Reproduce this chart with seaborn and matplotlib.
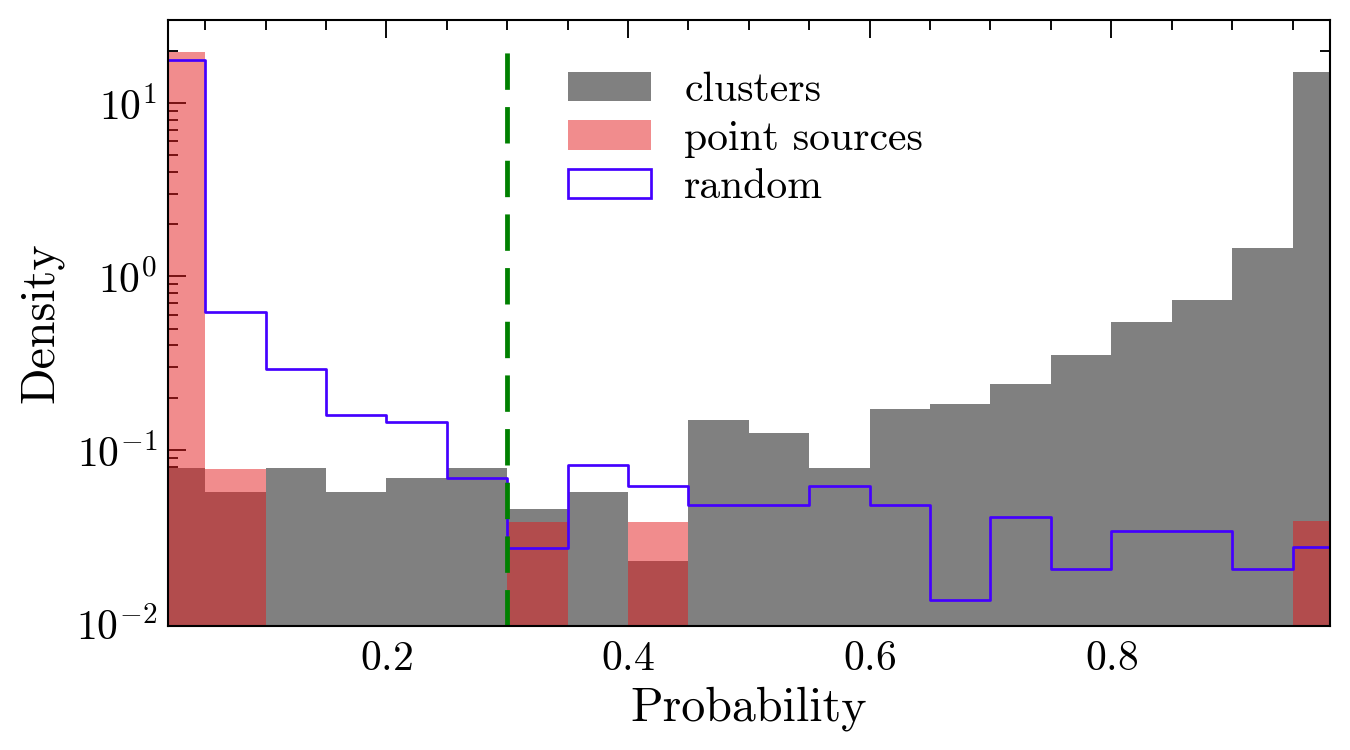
import numpy as np
import pandas as pd
import matplotlib
matplotlib.use("Agg")
import matplotlib.pyplot as plt
from matplotlib.patches import Patch
from matplotlib.ticker import MultipleLocator, AutoMinorLocator, LogLocator, NullFormatter
import seaborn as sns

# ---------------- data ----------------
bin_edges = [0.00, 0.05, 0.10, 0.15, 0.20, 0.25, 0.30, 0.35, 0.40, 0.45, 0.50,
             0.55, 0.60, 0.65, 0.70, 0.75, 0.80, 0.85, 0.90, 0.95, 1.00]
clusters_density = [0.079, 0.057, 0.079, 0.057, 0.069, 0.079, 0.0455, 0.057, 0.023, 0.148,
                    0.125, 0.079, 0.171, 0.183, 0.240, 0.351, 0.543, 0.731, 1.45, 15.1]
point_sources_density = [19.6, 0.0772, 0.0, 0.0, 0.0, 0.0, 0.0386, 0.0, 0.0386, 0.0,
                         0.0, 0.0, 0.0, 0.0, 0.0, 0.0, 0.0, 0.0, 0.0, 0.0388]
random_density = [17.7, 0.624, 0.291, 0.158, 0.145, 0.0687, 0.0273, 0.0823, 0.0616, 0.0484,
                  0.0484, 0.0616, 0.0484, 0.0137, 0.0413, 0.0207, 0.0343, 0.0343, 0.0207, 0.0275]
threshold = 0.3
labels = ["clusters", "point sources", "random"]
x_limits = (0.019, 0.981)
y_limits = (0.0097, 30.0)

# ---------------- style ----------------
sns.set_style("ticks")
plt.rcParams.update({
    "font.family": ["cmr10", "DejaVu Serif"],
    "mathtext.fontset": "cm",
    "axes.formatter.use_mathtext": True,
    "axes.unicode_minus": False,
    "text.color": "black",
    "axes.labelcolor": "black",
    "axes.linewidth": 1.0,
    "axes.edgecolor": "black",
    "xtick.direction": "in",
    "ytick.direction": "in",
    "xtick.top": True,
    "ytick.right": True,
    "xtick.major.size": 8.8,
    "ytick.major.size": 8.8,
    "xtick.minor.size": 4.6,
    "ytick.minor.size": 4.6,
    "xtick.major.width": 0.9,
    "ytick.major.width": 0.9,
    "xtick.minor.width": 0.9,
    "ytick.minor.width": 0.9,
    "xtick.major.pad": 7,
    "ytick.major.pad": 5,
    "xtick.color": "black",
    "ytick.color": "black",
    "xtick.labelcolor": "black",
    "ytick.labelcolor": "black",
    "xtick.labelsize": 20,
    "ytick.labelsize": 20,
})

edges = np.array(bin_edges)
centers = (edges[:-1] + edges[1:]) / 2
df = pd.DataFrame({
    "prob": centers,
    "clusters": clusters_density,
    "point_sources": point_sources_density,
    "random": random_density,
})

fig = plt.figure(figsize=(9, 5), dpi=150)
ax = fig.add_axes([0.1242, 0.1657, 0.861, 0.8076])
ax.set_yscale("log")

gray = "#808080"
red = "#e41a1c"
blue = "#4400ff"

sns.histplot(data=df, x="prob", weights="clusters", bins=bin_edges, stat="count",
             element="bars", color=gray, alpha=1.0, linewidth=0, edgecolor="none", ax=ax)
sns.histplot(data=df, x="prob", weights="point_sources", bins=bin_edges, stat="count",
             element="bars", color=red, alpha=0.5, linewidth=0, edgecolor="none", ax=ax)
sns.histplot(data=df, x="prob", weights="random", bins=bin_edges, stat="count",
             element="step", fill=False, color=blue, linewidth=1.3, ax=ax)

ax.axvline(threshold, ymin=0, ymax=0.963, color="green", linewidth=2.3,
           linestyle=(0, (7.6, 3.6)))

ax.set_xlim(*x_limits)
ax.set_ylim(*y_limits)

ax.xaxis.set_major_locator(MultipleLocator(0.2))
ax.xaxis.set_minor_locator(AutoMinorLocator(4))
ax.yaxis.set_major_locator(LogLocator(base=10, numticks=10))
ax.yaxis.set_minor_locator(LogLocator(base=10, subs=np.arange(2, 10), numticks=20))
ax.yaxis.set_minor_formatter(NullFormatter())
ax.tick_params(which="both", direction="in", top=True, right=True)

ax.set_xlabel("Probability", fontsize=23, labelpad=4)
ax.set_ylabel("Density", fontsize=23, labelpad=6)

handles = [Patch(facecolor=gray, edgecolor="none"),
           Patch(facecolor=red, alpha=0.5, edgecolor="none"),
           Patch(facecolor="none", edgecolor=blue, linewidth=1.3)]
ax.legend(handles, labels, loc="upper center", bbox_to_anchor=(0.497, 0.977),
          frameon=False, fontsize=20, handlelength=2.0, handleheight=0.7,
          handletextpad=0.8, labelspacing=0.27)

fig.savefig("out.png", dpi=150)
